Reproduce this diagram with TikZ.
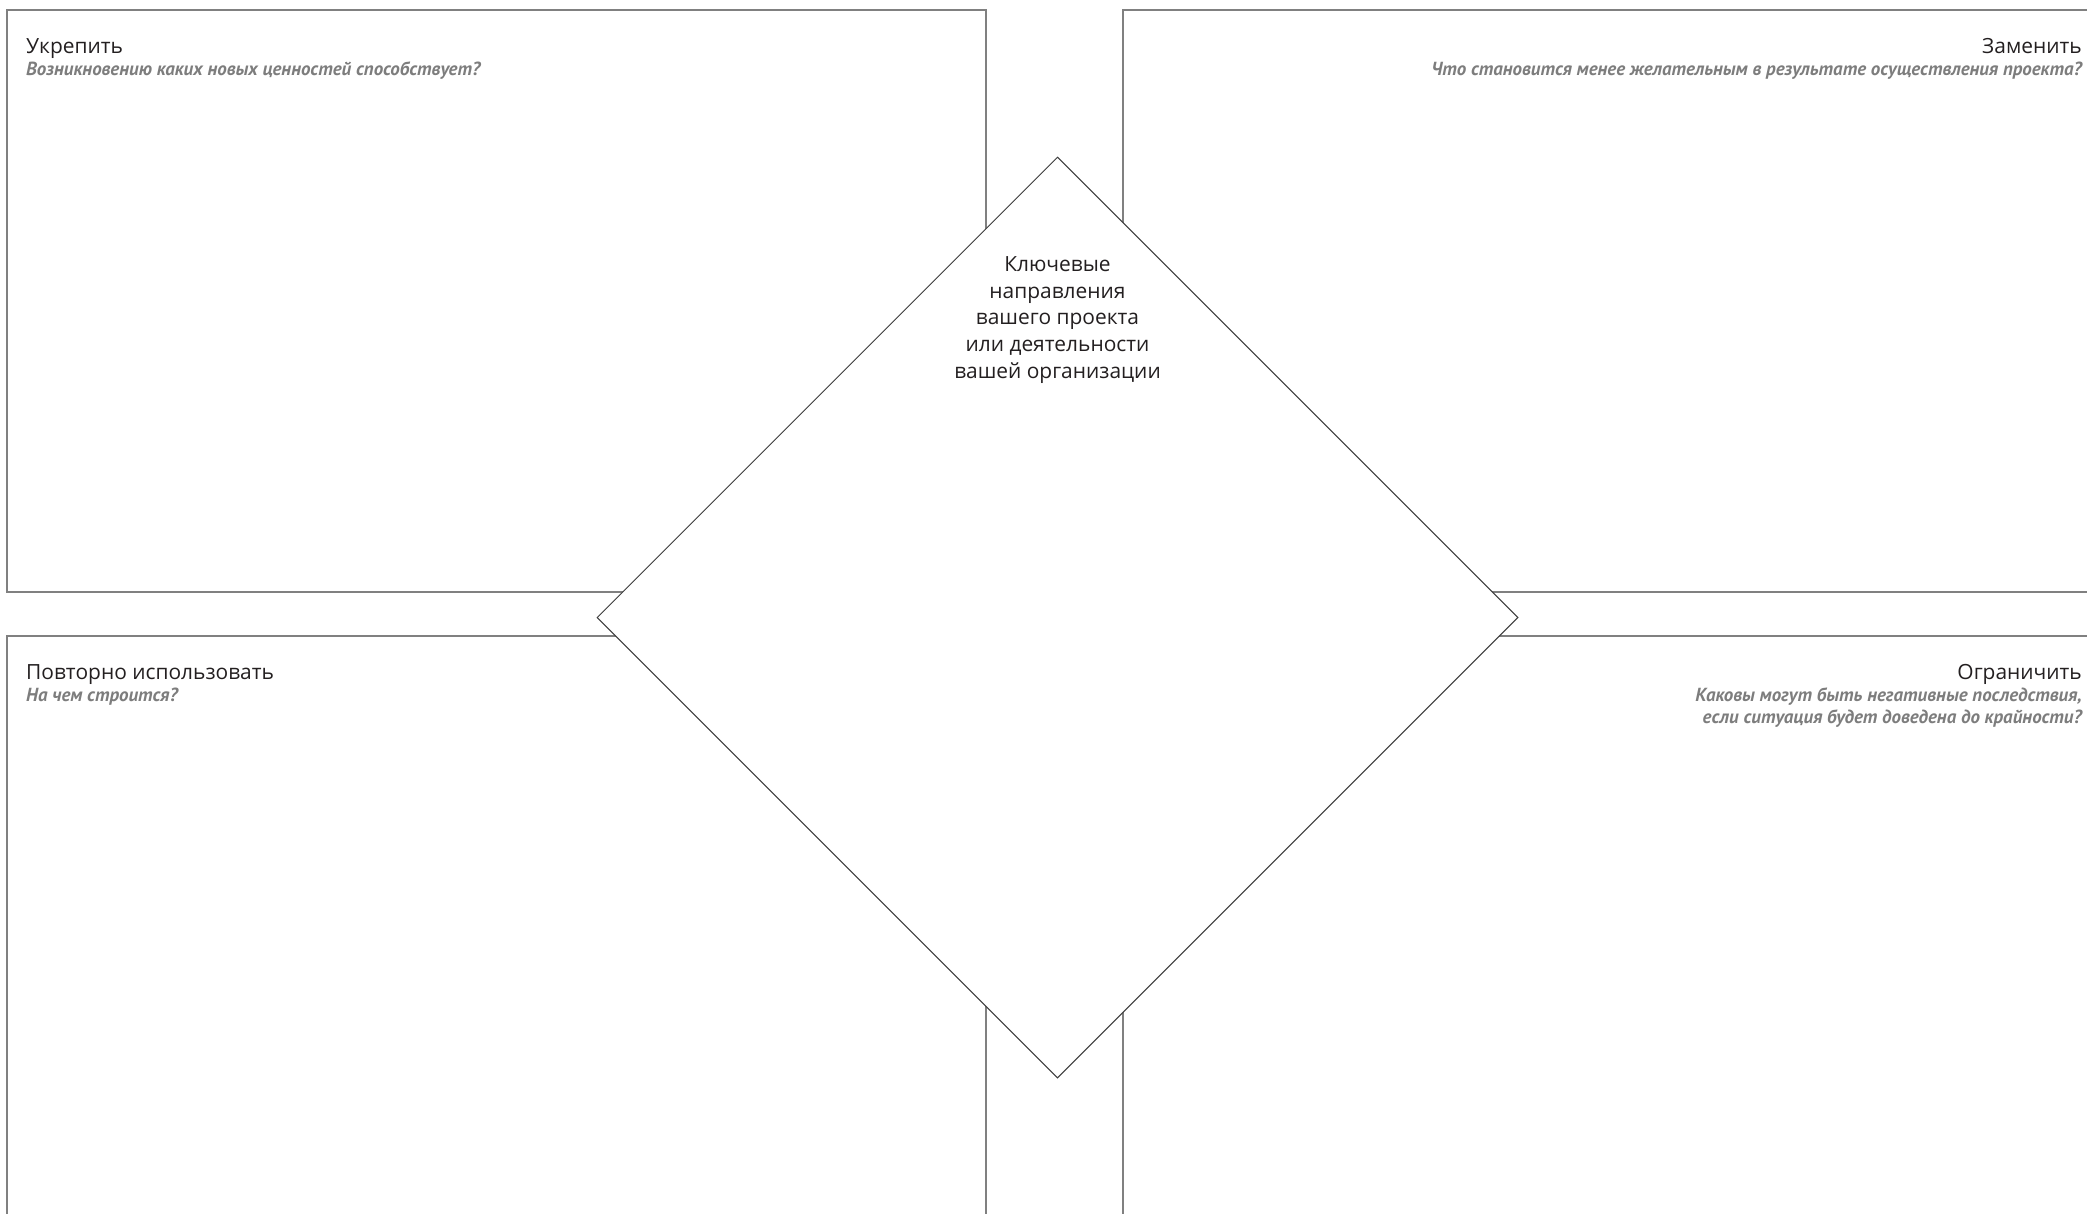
\documentclass[tikz,border=0pt]{standalone}
\usepackage{fontspec}
\setmainfont{Open Sans}
\newfontfamily\hintfont{PT Sans}
\usepackage{xcolor}
\usepackage{tikz}
\usetikzlibrary{positioning, calc, shapes.geometric}
\definecolor{PanelGray}{RGB}{128, 128, 128}
\definecolor{EdgeDark}{RGB}{60, 60, 60}
\definecolor{HintGray}{RGB}{125, 125, 125}
\definecolor{TextDark}{RGB}{35, 31, 32}

\begin{document}
\begin{tikzpicture}[
    x=1bp, y=-1bp,
    panel/.style={draw=PanelGray, line width=1.6bp, anchor=north west, inner sep=0pt},
    paneltitle/.style={text=TextDark, inner sep=0pt, font=\fontsize{21}{25}\selectfont},
    panelhint/.style={text=HintGray, inner sep=0pt, align=right, font=\hintfont\fontsize{19}{21.5}\selectfont\bfseries\itshape}
  ]
    \useasboundingbox (0,0) rectangle (2087,1213);
    \clip (0,0) rectangle (2087,1213);

    % four panels
    \node[panel, minimum width=979bp, minimum height=582bp] (strengthen) at (6,9) {};
    \node[panel, minimum width=1000bp, minimum height=582bp] (replace) at (1122,9) {};
    \node[panel, minimum width=979bp, minimum height=640bp] (reuse) at (6,635) {};
    \node[panel, minimum width=1000bp, minimum height=640bp] (limit) at (1122,635) {};

    % panel headings
    \node[paneltitle, anchor=base west] (strengthenT) at ($(strengthen.north west)+(20,44)$) {Укрепить};
    \node[panelhint, anchor=base west] (strengthenH) at ($(strengthen.north west)+(20,66)$) {Возникновению каких новых ценностей способствует?};

    \node[paneltitle, anchor=base east] (replaceT) at (2082,53) {Заменить};
    \node[panelhint, anchor=base east] (replaceH) at (2082,75) {Что становится менее желательным в результате осуществления проекта?};

    \node[paneltitle, anchor=base west] (reuseT) at ($(reuse.north west)+(20,44)$) {Повторно использовать};
    \node[panelhint, anchor=base west] (reuseH) at ($(reuse.north west)+(20,66)$) {На чем строится?};

    \node[paneltitle, anchor=base east] (limitT) at (2082,679) {Ограничить};
    \node[panelhint, anchor=north east] (limitH) at (2082,688) {Каковы могут быть негативные последствия,\\если ситуация будет доведена до крайности?};

    % central diamond
    \node[diamond, aspect=1, draw=EdgeDark, line width=1bp, fill=white, inner sep=0pt,
      minimum width=921bp, minimum height=921bp] (core) at (1057.5,617.5) {};
    \node[text=TextDark, align=center, inner sep=0pt, font=\fontsize{21}{26.8}\selectfont]
      (coreT) at (1057.5,320) {Ключевые\\направления\\вашего проекта\\или деятельности\\вашей организации};
  \end{tikzpicture}
\end{document}
